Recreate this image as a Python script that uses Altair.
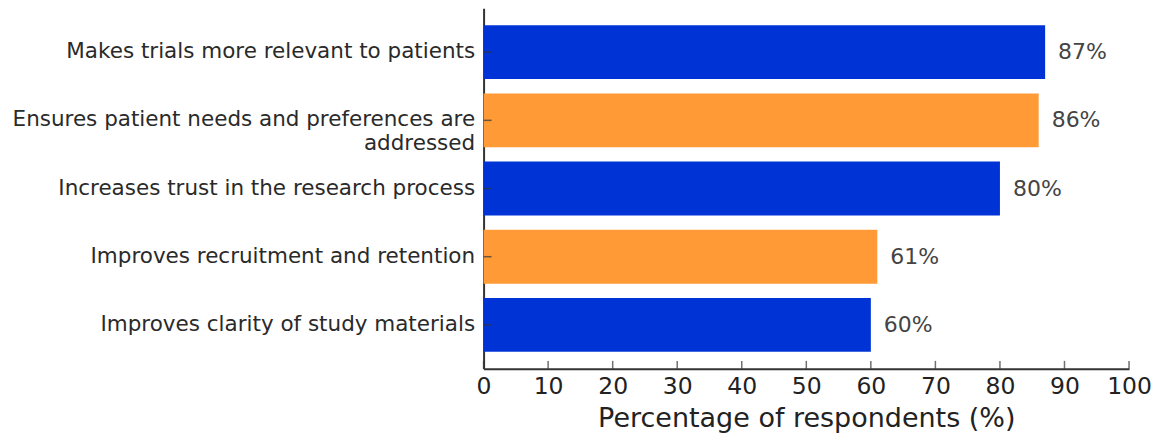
import altair as alt
import pandas as pd

categories = [
    "Makes trials more relevant to patients",
    "Ensures patient needs and preferences are\naddressed",
    "Increases trust in the research process",
    "Improves recruitment and retention",
    "Improves clarity of study materials",
]
values = [87, 86, 80, 61, 60]
colors = ["#0033D6", "#FF9A36", "#0033D6", "#FF9A36", "#0033D6"]
x_ticks = [0, 10, 20, 30, 40, 50, 60, 70, 80, 90, 100]

FONT = "DejaVu Sans"
W, H = 646, 361

df = pd.DataFrame({
    "cat": categories,
    "val": values,
    "color": colors,
    "label": [f"{v}%" for v in values],
})
ticks_df = pd.DataFrame({"t": x_ticks})

yscale = alt.Scale(domain=categories, paddingInner=0.21, paddingOuter=0.25)
xscale = alt.Scale(domain=[0, 100], nice=False, zero=True)

base = alt.Chart(df)

bars = base.mark_bar().encode(
    y=alt.Y("cat:N", scale=yscale, sort=categories,
            axis=alt.Axis(title=None, labelFont=FONT, labelFontSize=21.5,
                          labelColor="#2a2a2a", labelPadding=9, tickSize=0,
                          domainColor="#333333", domainWidth=2,
                          labelLineHeight=24, labelLimit=600,
                          labelExpr="split(datum.label, '\\n')")),
    x=alt.X("val:Q", scale=xscale,
            axis=alt.Axis(title="Percentage of respondents (%)", values=x_ticks,
                          labelFont=FONT, labelFontSize=23.5, labelColor="#222222",
                          labelPadding=6, tickSize=0, domainColor="#333333",
                          domainWidth=2, grid=False, titleFont=FONT,
                          titleFontSize=27, titleFontWeight="normal",
                          titleColor="#222222", titleBaseline="alphabetic",
                          titleY=58, labelFlush=False)),
    color=alt.Color("color:N", scale=None),
)

text = base.mark_text(align="left", baseline="middle", dx=13, font=FONT,
                      fontSize=22, color="#444444").encode(
    y=alt.Y("cat:N", scale=yscale, sort=categories),
    x=alt.X("val:Q", scale=xscale),
    text="label:N",
)

xt = alt.Chart(ticks_df).mark_tick(orient="vertical", size=8, thickness=1.5,
                                   color="#333333").encode(
    x=alt.X("t:Q", scale=xscale),
    y=alt.value(H - 4),
)

yt = base.mark_tick(orient="horizontal", size=8, thickness=1.5,
                    color="#333333").encode(
    y=alt.Y("cat:N", scale=yscale, sort=categories),
    x=alt.value(4),
)

chart = alt.layer(bars, text, xt, yt).properties(
    width=W, height=H,
    autosize=alt.AutoSizeParams(type="none"),
    padding={"left": 476, "top": 0, "right": 30, "bottom": 65},
).configure(background="white").configure_view(stroke=None)

chart.save("out.html", embed_options={"renderer": "svg", "actions": False})
